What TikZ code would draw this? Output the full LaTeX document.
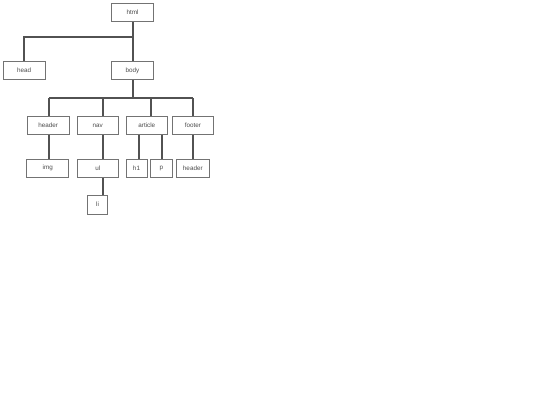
\documentclass[tikz,border=0pt]{standalone}
\usepackage{fontspec}
\setmainfont{Liberation Sans}
\begin{document}
\begin{tikzpicture}[x=1pt,y=-1pt,
  box/.style={draw=black!55,line width=0.7pt,fill=white,inner sep=0pt,minimum height=18.5pt,
    font=\fontsize{6.3}{7}\selectfont,text=black!70},
  wbox/.style={box,minimum width=41.5pt},
  link/.style={draw=black!68,line width=1.8pt}]
\useasboundingbox[fill=white] (0,0) rectangle (540,405);
\coordinate (jt) at (133,37);
\coordinate (jb) at (133,98);
\node[wbox] (html) at (132.5,12.5) {html};
\node[wbox] (head) at (24.2,70.5) {head};
\node[wbox] (body) at (132.5,70.5) {body};
\node[wbox,minimum height=17.8pt] (header) at (48.2,125.5) {header};
\node[wbox,minimum height=17.8pt] (nav) at (97.8,125.5) {nav};
\node[wbox,minimum height=17.8pt] (article) at (146.8,125.5) {article};
\node[wbox,minimum height=17.8pt] (footer) at (193,125.5) {footer};
\node[wbox,minimum width=42pt,minimum height=18pt] (img) at (47.8,168.3) {img};
\node[wbox,minimum width=40.5pt,minimum height=18pt] (ul) at (97.8,168.3) {ul};
\node[box,minimum width=21pt,minimum height=18pt] (h1) at (136.5,168.3) {h1};
\node[box,minimum width=22pt,minimum height=18pt] (p) at (161.3,168.3) {p};
\node[box,minimum width=32.3pt,minimum height=18pt] (header2) at (192.8,168.3) {header};
\node[box,minimum width=19.6pt,minimum height=19pt] (li) at (97.5,204.5) {li};
\coordinate (cHead) at (24,37);
\draw[link] (html.south -| jt) -- (jt) -- (cHead) -- (head.north -| cHead);
\draw[link] (html.south -| jt) -- (body.north -| jt);
\draw[link] (body.south -| jb) -- (jb);
\coordinate (cHeader) at (49,98);
\coordinate (cNav) at (103,98);
\coordinate (cArticle) at (151,98);
\coordinate (cFooter) at (193,98);
\draw[link] (cHeader) -- (cFooter);
\draw[link] (cHeader) -- (header.north -| cHeader);
\draw[link] (cNav) -- (nav.north -| cNav);
\draw[link] (cArticle) -- (article.north -| cArticle);
\draw[link] (cFooter) -- (footer.north -| cFooter);
\draw[link] (header.south -| cHeader) -- (img.north -| cHeader);
\draw[link] (nav.south -| cNav) -- (ul.north -| cNav);
\draw[link] (ul.south -| cNav) -- (li.north -| cNav);
\coordinate (cH1) at (139,130);
\coordinate (cP) at (162,130);
\draw[link] (article.south -| cH1) -- (h1.north -| cH1);
\draw[link] (article.south -| cP) -- (p.north -| cP);
\draw[link] (footer.south -| cFooter) -- (header2.north -| cFooter);
\end{tikzpicture}
\end{document}
